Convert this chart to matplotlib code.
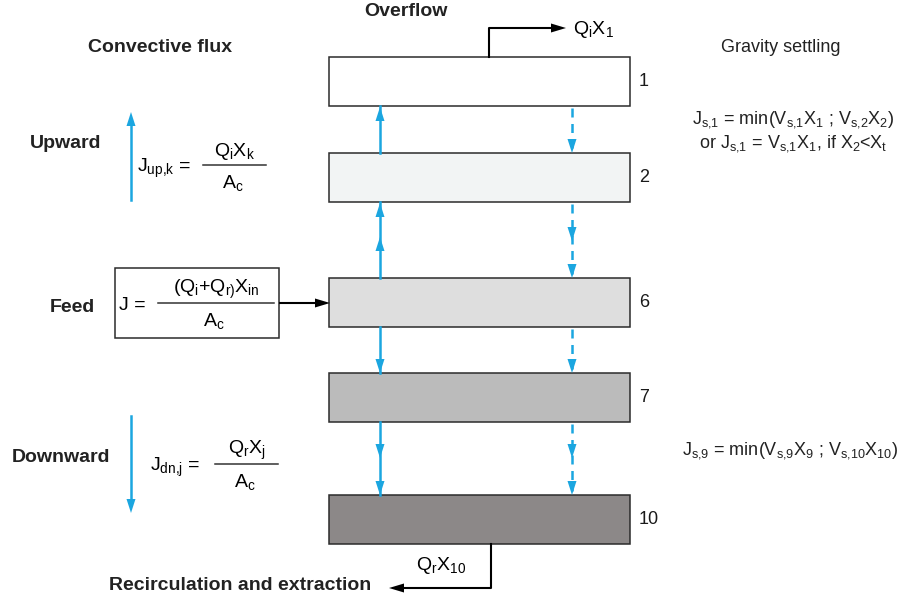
import matplotlib
matplotlib.use('Agg')
import matplotlib.pyplot as plt
from matplotlib.patches import Rectangle, Polygon

# settling column layers and fluxes
layers = ['1', '2', '6', '7', '10']
conv_dir = ['up', 'up', 'down', 'down']      # convective flux between layers
conv_heads = [1, 2, 1, 2]
settle_heads = [1, 2, 1, 2]                  # gravity settling (always down)

side_labels = ['Upward', 'Feed', 'Downward']
flux_up = (r'J$_{\mathrm{up{,}k}}$ =', r'Q$_\mathrm{i}$X$_\mathrm{k}$', r'A$_\mathrm{c}$')
flux_feed = (r'J =', r'(Q$_\mathrm{i}$+Q$_\mathrm{r)}$X$_\mathrm{in}$', r'A$_\mathrm{c}$')
flux_dn = (r'J$_{\mathrm{dn{,}j}}$ =', r'Q$_\mathrm{r}$X$_\mathrm{j}$', r'A$_\mathrm{c}$')
settle_top = [r'J$_{\mathrm{s{,}1}}$ = min(V$_{\mathrm{s{,}1}}$X$_1$ ; V$_{\mathrm{s{,}2}}$X$_2$)',
              r'or J$_{\mathrm{s{,}1}}$ = V$_{\mathrm{s{,}1}}$X$_1$, if X$_2$<X$_\mathrm{t}$']
settle_bot = r'J$_{\mathrm{s{,}9}}$ = min(V$_{\mathrm{s{,}9}}$X$_9$ ; V$_{\mathrm{s{,}10}}$X$_{10}$)'

# layout (pixel coords)
tops = [57, 153, 278, 373, 495]
fills = ['#ffffff', '#f2f4f4', '#dedede', '#bbbbbb', '#8c8888']
BOX_X, BOX_W, BOX_H = 329, 301, 49
XL, XR = 380, 572
BLUE = '#1ba6e0'

plt.rcParams['font.family'] = ['Liberation Sans', 'DejaVu Sans']
plt.rcParams['mathtext.fontset'] = 'custom'
plt.rcParams['mathtext.rm'] = 'Liberation Sans'
plt.rcParams['mathtext.it'] = 'Liberation Sans'
plt.rcParams['mathtext.bf'] = 'Liberation Sans:bold'

fig = plt.figure(figsize=(9, 6.01), dpi=100)
ax = fig.add_axes([0, 0, 1, 1])
ax.set_xlim(0, 900)
ax.set_ylim(601, 0)
ax.axis('off')


def vhead(x, tip, d, color, w=4.5, h=14):
    # d=-1 points up, d=+1 points down
    ax.add_patch(Polygon([(x, tip), (x - w, tip - d * h), (x + w, tip - d * h)],
                         closed=True, fc=color, lw=0, zorder=4))


def hhead(tip, y, d, color='black', w=4.5, h=15):
    ax.add_patch(Polygon([(tip, y), (tip - d * h, y - w), (tip - d * h, y + w)],
                         closed=True, fc=color, lw=0, zorder=4))


# layers
for name, top, fc in zip(layers, tops, fills):
    ax.add_patch(Rectangle((BOX_X, top), BOX_W, BOX_H, fc=fc, ec='#2b2b2b', lw=1.1, zorder=2))
    ax.text(BOX_X + BOX_W + 9, top + BOX_H / 2, name, fontsize=13, ha='left', va='center',
            color='#1a1a1a')

# fluxes between layers
for i in range(len(layers) - 1):
    y0 = tops[i] + BOX_H
    y1 = tops[i + 1]
    ax.plot([XL, XL], [y0, y1], color=BLUE, lw=1.8, zorder=3)
    if conv_dir[i] == 'up':
        for tip in [y0 + 1, y0 + 35][:conv_heads[i]]:
            vhead(XL, tip, -1, BLUE)
    else:
        for tip in [y1, y1 - 37][:conv_heads[i]]:
            vhead(XL, tip, 1, BLUE)
    ax.plot([XR, XR], [y0 + 2, y1 - 4], color=BLUE, lw=1.8, ls=(0, (3.6, 2.6)), zorder=3)
    for tip in [y1, y1 - 37][:settle_heads[i]]:
        vhead(XR, tip, 1, BLUE)

# overflow
ax.plot([489, 489, 552], [tops[0], 28, 28], color='black', lw=1.5)
hhead(566, 28, 1)
ax.text(406, 12, 'Overflow', fontsize=14, fontweight='bold', ha='center', va='center',
        color='#222222')
ax.text(573, 30, r'Q$_\mathrm{i}$X$_1$', fontsize=14, ha='left', va='center')

# recirculation
ax.plot([491, 491, 402], [tops[-1] + BOX_H, 588, 588], color='black', lw=1.5)
hhead(389, 588, -1)
ax.text(416, 566, r'Q$_\mathrm{r}$X$_{10}$', fontsize=14, ha='left', va='center')
ax.text(240, 585, 'Recirculation and extraction', fontsize=14, fontweight='bold',
        ha='center', va='center', color='#222222')

# left side: convective flux
bold = dict(fontsize=14, fontweight='bold', ha='center', va='center', color='#222222')
ax.text(160, 48, 'Convective flux', **bold)
ax.text(66, 143, side_labels[0], **bold)
ax.text(72, 308, side_labels[1], **bold)
ax.text(61, 457, side_labels[2], **bold)

ax.plot([131, 131], [200, 124], color=BLUE, lw=1.8)
vhead(131, 112, -1, BLUE)
ax.plot([131, 131], [416, 500], color=BLUE, lw=1.8)
vhead(131, 513, 1, BLUE)


def fraction(lhs, num, den, xl, x0, x1, y):
    ax.text(xl, y + 3, lhs, fontsize=14, ha='left', va='center')
    ax.plot([x0, x1], [y, y], color='#333333', lw=1.1)
    xc = (x0 + x1) / 2
    ax.text(xc, y - 14, num, fontsize=14, ha='center', va='center')
    ax.text(xc - 2, y + 18, den, fontsize=14, ha='center', va='center')


fraction(*flux_up, 137, 203, 266, 165)
fraction(*flux_dn, 150, 215, 278, 464)

# feed box
ax.add_patch(Rectangle((115, 268), 164, 70, fc='white', ec='#2b2b2b', lw=1.1))
fraction(*flux_feed, 119, 158, 274, 303)
ax.plot([280, 318], [303, 303], color='black', lw=1.5)
hhead(330, 303, 1)

# right side: gravity settling
ax.text(781, 48, 'Gravity settling', fontsize=13, ha='center', va='center', color='#222222')
ax.text(793, 120, settle_top[0], fontsize=13, ha='center', va='center', color='#222222')
ax.text(793, 144, settle_top[1], fontsize=13, ha='center', va='center', color='#222222')
ax.text(790, 451, settle_bot, fontsize=13, ha='center', va='center', color='#222222')

fig.savefig('out.png', dpi=100)
